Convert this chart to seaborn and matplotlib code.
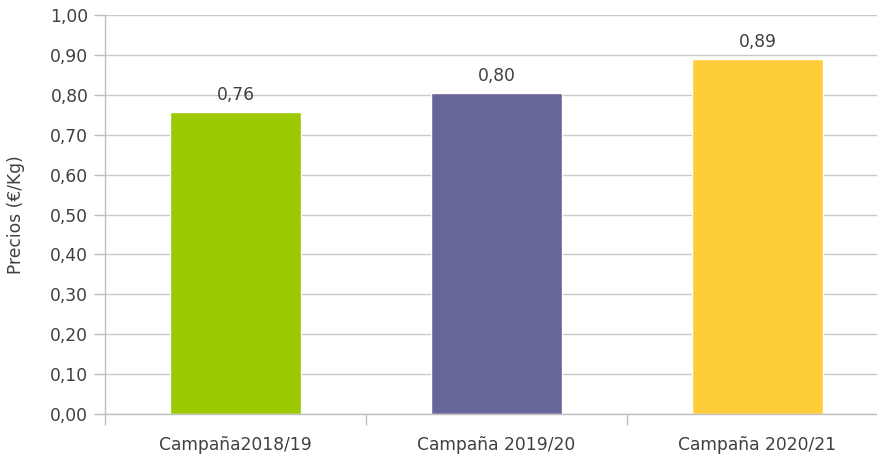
import matplotlib
matplotlib.use("Agg")
import matplotlib.pyplot as plt
import seaborn as sns
import pandas as pd
from matplotlib.ticker import FixedLocator, FuncFormatter

categories = ["Campaña2018/19", "Campaña 2019/20", "Campaña 2020/21"]
prices = [0.757, 0.804, 0.89]
colors = ["#9DC901", "#666699", "#FFCC3A"]
yticks = [0.0, 0.1, 0.2, 0.3, 0.4, 0.5, 0.6, 0.7, 0.8, 0.9, 1.0]

sns.set_theme(style="white")
plt.rcParams['font.family'] = ['DejaVu Sans']
txt = "#404040"
fs = 12.3

df = pd.DataFrame({"cat": categories, "price": prices})

fig = plt.figure(figsize=(8.78, 4.54), dpi=100)
ax = fig.add_axes([105/878, 40/454, 783/878, 399/454])
sns.barplot(data=df, x="cat", y="price", hue="cat", palette=colors,
            width=0.5, legend=False, ax=ax, saturation=1)

ax.set_xlim(-0.5, 2.5)
ax.set_ylim(0, 1.0)
ax.yaxis.set_major_locator(FixedLocator(yticks))
ax.yaxis.set_major_formatter(FuncFormatter(lambda v, p: f"{v:.2f}".replace(".", ",")))
ax.grid(axis="y", color="#C8C8C8", linewidth=1)
ax.set_axisbelow(True)
for s in ["top", "right"]:
    ax.spines[s].set_visible(False)
for s in ["left", "bottom"]:
    ax.spines[s].set_color("#BFBFBF")
    ax.spines[s].set_linewidth(1)

ax.tick_params(axis="y", left=True, length=8, width=1, color="#BFBFBF",
               labelsize=fs, labelcolor=txt, pad=4)
ax.set_xticks([0, 1, 2])
ax.set_xticklabels(categories)
ax.set_xticks([-0.5, 0.5, 1.5, 2.5], minor=True)
ax.tick_params(axis="x", which="major", bottom=False, labelsize=fs, labelcolor=txt, pad=10)
ax.tick_params(axis="x", which="minor", bottom=True, length=8, width=1, color="#BFBFBF")

ax.set_xlabel("")
ax.set_ylabel("Precios (€/Kg)", fontsize=fs, color=txt, labelpad=18)

for i, v in enumerate(prices):
    ax.annotate(f"{v:.2f}".replace(".", ","), (i, v), xytext=(0, 6),
                textcoords="offset points", ha="center", va="bottom",
                fontsize=fs, color=txt)

fig.savefig("out.png", dpi=100)
